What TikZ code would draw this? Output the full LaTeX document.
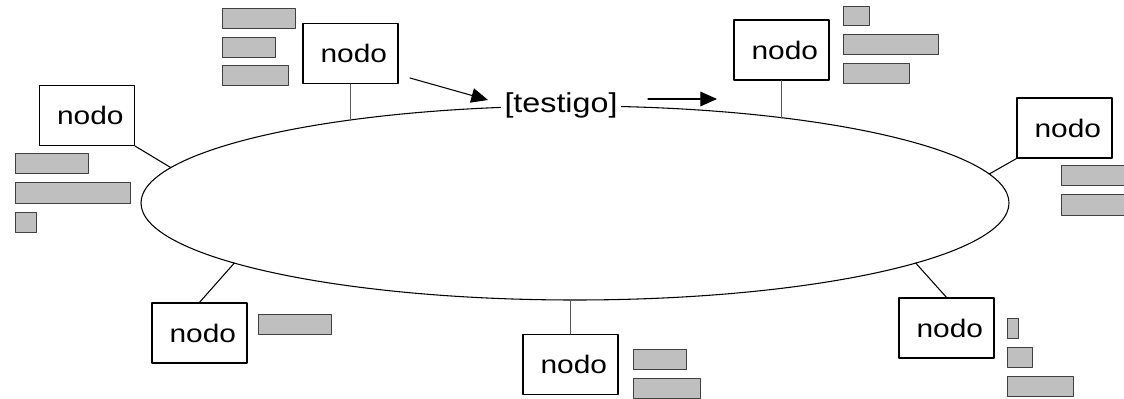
\documentclass[tikz,border=0pt]{standalone}
\usepackage{fontspec}
\setmainfont[FakeStretch=1.18]{Liberation Sans}
\usetikzlibrary{shapes.geometric,arrows.meta}
\begin{document}
\begin{tikzpicture}[x=0.75pt,y=-0.75pt,line cap=round,line join=round,
  nodebox/.style={draw,line width=0.9pt,fill=white,minimum width=71.25pt,minimum height=45pt,inner sep=0pt,font=\fontsize{19}{23}\selectfont,execute at begin node=\hspace*{5pt}},
  bar/.style={draw=black!75,fill=black!25,line width=0.75pt},
  link/.style={line width=0.8pt},
  stem/.style={line width=0.9pt,draw=black!65},
  flow/.style={line width=0.8pt,-{Triangle[length=12.5pt,width=11pt]}}]

\useasboundingbox (0,0) rectangle (1124,399);

\node [ellipse,draw,line width=0.8pt,minimum width=651pt,minimum height=145.5pt,inner sep=0pt,outer sep=0pt] (ring) at (575,203) {};
\node [fill=white,inner xsep=3pt,inner ysep=1pt,font=\fontsize{20.5}{24}\selectfont] (token) at (561,105) {[testigo]};

\node [nodebox] (n1) at (350.5,53.5) {nodo};
\node [nodebox] (n2) at (781.5,50) {nodo};
\node [nodebox] (n3) at (1064.5,128) {nodo};
\node [nodebox] (n4) at (87,115.5) {nodo};
\node [nodebox] (n5) at (199.5,333) {nodo};
\node [nodebox] (n6) at (570.5,364.5) {nodo};
\node [nodebox] (n7) at (946.5,328) {nodo};

\draw [stem] (n1.south) -- (n1.south |- ring.160);
\draw [stem] (n2.south) -- (n2.south |- ring.22);
\draw [stem] (n6.north) -- (n6.north |- ring.268);
\draw [link] (n3.south west) -- (ring.4.5);
\draw [link] (n4.south east) -- (ring.175);
\draw [link] (n5.north) -- (ring.190);
\draw [link] (n7.north) -- (ring.350.5);

\coordinate (a1) at (410,78);
\coordinate (b1) at (488,100);
\coordinate (a2) at (648,99);
\coordinate (b2) at (717,99);
\draw [flow] (a1) -- (b1);
\draw [flow] (a2) -- (b2);

% barras
\draw [bar] (222,9) rectangle (295,29);
\draw [bar] (222,38) rectangle (275,58);
\draw [bar] (222,66) rectangle (288,86);

\draw [bar] (843,7) rectangle (869,26);
\draw [bar] (843,35) rectangle (938,55);
\draw [bar] (843,64) rectangle (909,84);

\draw [bar] (1061,166) rectangle (1130,186);
\draw [bar] (1061,195) rectangle (1130,215);

\draw [bar] (15,154) rectangle (88,174);
\draw [bar] (15,183) rectangle (130,203);
\draw [bar] (15,212) rectangle (36,232);

\draw [bar] (258,314) rectangle (331,334);

\draw [bar] (633,349) rectangle (686,369);
\draw [bar] (633,378) rectangle (700,398);

\draw [bar] (1007,318) rectangle (1018,338);
\draw [bar] (1007,347) rectangle (1032,367);
\draw [bar] (1007,376) rectangle (1073,396);
\end{tikzpicture}
\end{document}
